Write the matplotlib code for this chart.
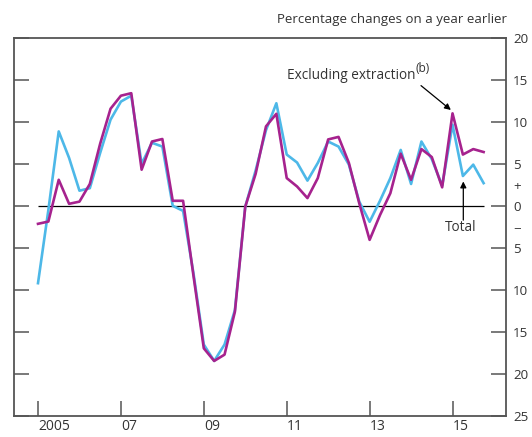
import numpy as np
from matplotlib import pyplot as plt

# Квартальные данные, 2005 Q1 - 2015 Q4
start_year = 2005
total = [-9.2, -0.5, 8.85, 5.7, 1.8, 2.1, 6.3, 10.25, 12.4, 13.1,
         5.0, 7.5, 7.05, 0.0, -0.6, -8.0, -16.5, -18.45, -16.5, -12.4,
         -0.1, 4.2, 9.0, 12.2, 6.1, 5.15, 3.0, 5.1, 7.65, 7.05,
         4.9, 0.5, -1.9, 0.6, 3.3, 6.65, 2.6, 7.65, 5.55, 2.4,
         9.65, 3.55, 4.9, 2.7]
excl_extraction = [-2.14, -1.87, 3.1, 0.24, 0.5, 2.6, 7.4, 11.55, 13.1, 13.4,
                   4.3, 7.65, 7.95, 0.6, 0.6, -8.3, -16.95, -18.45, -17.7, -12.6,
                   -0.1, 3.8, 9.45, 10.95, 3.3, 2.3, 0.92, 3.3, 7.9, 8.2,
                   5.1, 0.3, -4.05, -1.1, 1.5, 6.2, 3.1, 6.75, 5.8, 2.2,
                   11.0, 6.1, 6.75, 6.4]
year_ticks = [2005, 2007, 2009, 2011, 2013, 2015]
year_labels = ['2005', '07', '09', '11', '13', '15']
y_ticks = [20, 15, 10, 5, 0, -5, -10, -15, -20, -25]
y_labels = ['20', '15', '10', '5', '0', '5', '10', '15', '20', '25']

x = start_year + np.arange(len(total)) / 4

plt.rcParams['font.family'] = ['Open Sans', 'DejaVu Sans']
plt.rcParams['font.size'] = 9.8
plt.rcParams['text.color'] = '#333333'

fig = plt.figure(figsize=(5.32, 4.37), dpi=100)
ax = fig.add_axes([14 / 532, 21 / 437, 492 / 532, 378.3 / 437])

frame_col = '#555555'
for sp in ax.spines.values():
    sp.set_color(frame_col)
    sp.set_linewidth(1.3)

# Линии
ax.hlines(0, x[0], x[-1], color='black', lw=0.9, zorder=1)
ax.plot(x, total, color='#4db8e8', lw=1.9, zorder=2)
ax.plot(x, excl_extraction, color='#a6228e', lw=1.9, zorder=3)

ax.set_xlim(2004.421, 2016.29)
ax.set_ylim(-25, 20)

# Оси
ax.set_xticks(year_ticks)
ax.set_xticklabels(year_labels, fontsize=10)
for lbl in ax.get_xticklabels():
    lbl.set_horizontalalignment('left')
ax.tick_params(axis='x', direction='in', length=10.8, width=1.1,
               color=frame_col, pad=2.5, labelcolor='#333333')

ax.set_yticks(y_ticks)
ax.set_yticklabels(y_labels, fontsize=9.6)
ax.set_yticks([2.5, -2.5], minor=True)
ax.set_yticklabels(['+', '\u2212'], minor=True, fontsize=9.6)
ax.tick_params(axis='y', which='major', direction='in', length=10.5, width=1.1,
               color=frame_col, left=True, right=True,
               labelleft=False, labelright=True, pad=5, labelcolor='#333333')
ax.tick_params(axis='y', which='minor', length=0, left=False, right=False,
               labelleft=False, labelright=True, pad=5, labelcolor='#333333')

# Подписи
fig.text(507 / 532, 1 - 20 / 437, 'Percentage changes on a year earlier',
         ha='right', va='center', fontsize=9.5)

ax.text(2011.0, 15.5, 'Excluding extraction', ha='left', va='center')
ax.text(2014.1, 16.3, '(b)', ha='left', va='center', fontsize=8.6)
ax.annotate('', xy=(2014.96, 11.4), xytext=(2014.24, 14.3),
            arrowprops=dict(arrowstyle='-|>', color='black', lw=0.9,
                            mutation_scale=9, shrinkA=0, shrinkB=0))

ax.text(2015.2, -2.62, 'Total', ha='center', va='center')
ax.annotate('', xy=(2015.26, 2.9), xytext=(2015.26, -1.7),
            arrowprops=dict(arrowstyle='-|>', color='black', lw=0.9,
                            mutation_scale=9, shrinkA=0, shrinkB=0))

fig.savefig('out.png', dpi=100)
